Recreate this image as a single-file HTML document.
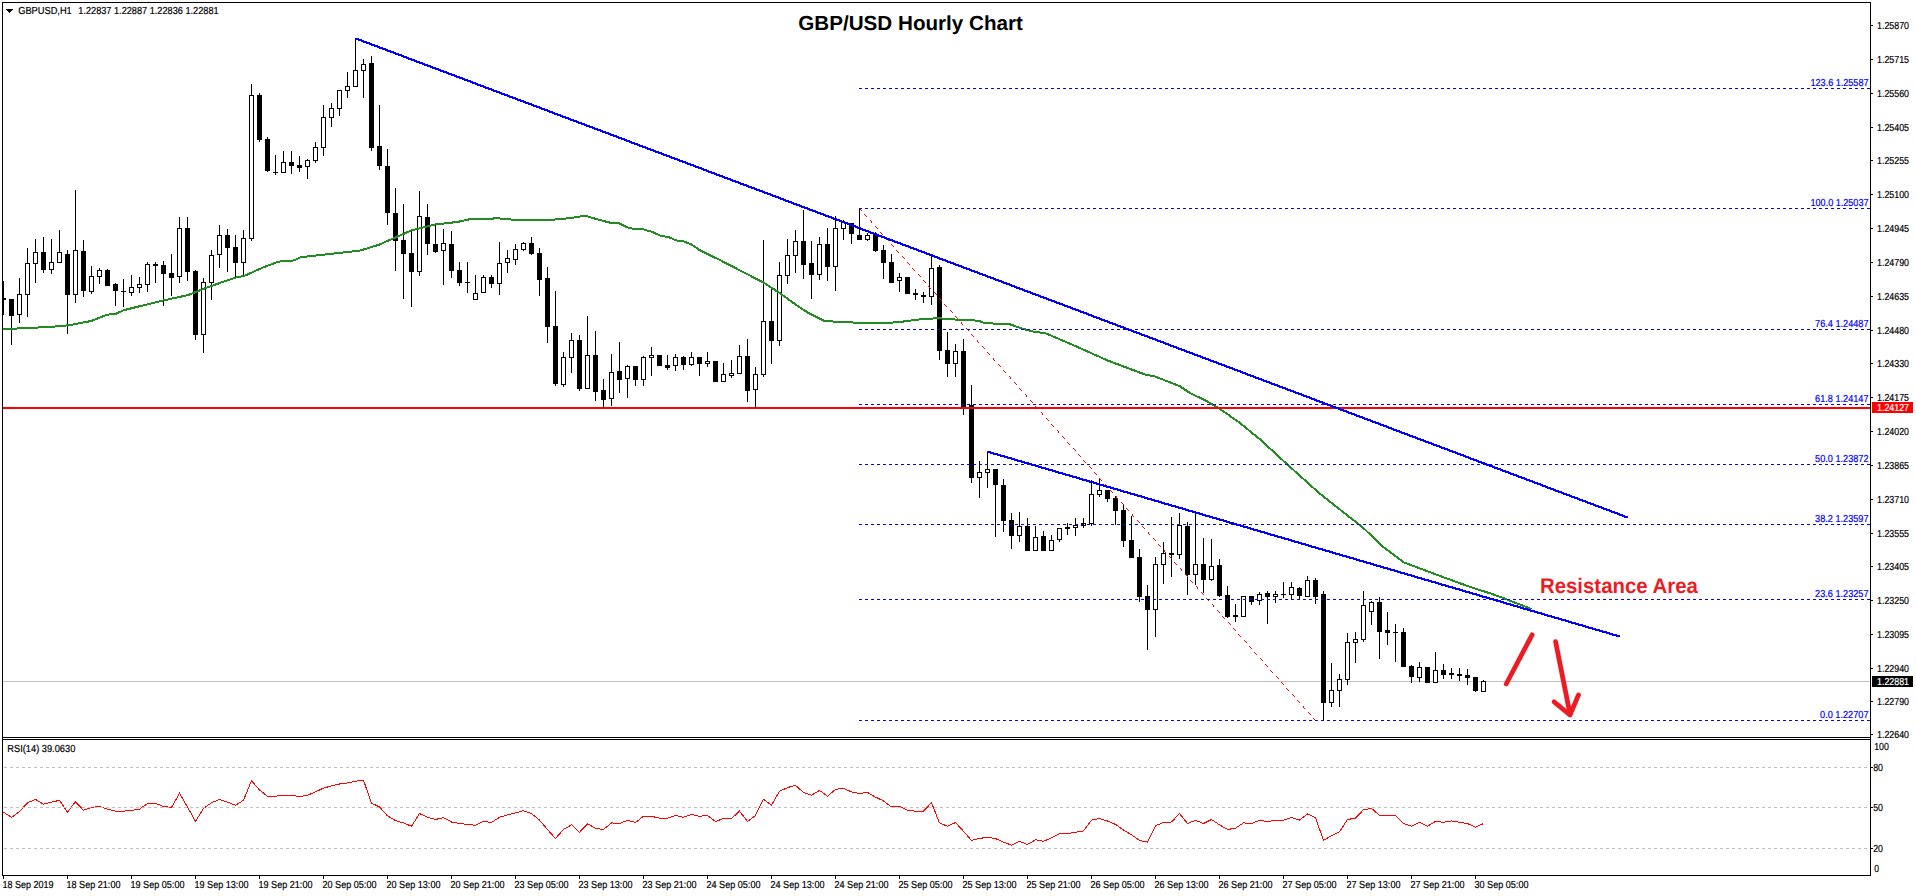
<!DOCTYPE html>
<html><head><meta charset="utf-8"><title>GBP/USD Hourly Chart</title>
<style>html,body{margin:0;padding:0;background:#fff;overflow:hidden}svg{display:block}text{font-family:"Liberation Sans",sans-serif}</style>
</head><body>
<svg width="1916" height="896" viewBox="0 0 1916 896" text-rendering="geometricPrecision">
<rect x="0" y="0" width="1916" height="896" fill="#fff"/>
<g shape-rendering="crispEdges">
<rect x="3" y="681" width="1867" height="1" fill="#c0c0c0"/>
<polyline points="3.5,812.2 11.5,817.4 19.5,811.6 27.5,802.8 35.5,799.4 43.5,804.1 51.5,802.2 59.5,800.3 67.5,812.2 75.5,801.7 83.5,810.3 91.5,807.5 99.5,806.4 107.5,809.2 115.5,811.2 123.5,811.2 131.5,810.3 139.5,809.2 147.5,803.5 155.5,803.5 163.5,806.4 171.5,807.5 179.5,793.4 187.5,806.9 195.5,821.4 203.5,808.4 211.5,802.8 219.5,799.4 227.5,802.2 235.5,805.2 243.5,800.3 251.5,780.6 259.5,790.0 267.5,796.2 275.5,796.2 283.5,795.3 291.5,795.3 299.5,796.6 307.5,795.3 315.5,791.9 323.5,788.1 331.5,785.9 339.5,784.0 347.5,782.9 355.5,781.2 363.5,780.2 371.5,803.2 379.5,806.9 387.5,815.9 395.5,820.6 403.5,822.9 411.5,826.3 419.5,813.5 427.5,817.3 435.5,819.5 443.5,817.6 451.5,822.0 459.5,823.5 467.5,824.4 475.5,825.3 483.5,821.4 491.5,822.5 499.5,817.3 507.5,814.8 515.5,812.9 523.5,810.7 531.5,813.5 539.5,820.1 547.5,829.5 555.5,838.5 563.5,829.5 571.5,824.8 579.5,832.3 587.5,823.8 595.5,828.2 603.5,829.5 611.5,822.9 619.5,823.5 627.5,820.4 635.5,822.5 643.5,816.3 651.5,816.3 659.5,818.2 667.5,818.2 675.5,815.4 683.5,817.3 691.5,814.4 699.5,816.3 707.5,815.4 715.5,821.4 723.5,818.6 731.5,818.6 739.5,811.2 747.5,821.4 755.5,815.4 763.5,799.4 771.5,805.0 779.5,791.3 787.5,787.6 795.5,785.3 803.5,792.4 811.5,795.3 819.5,790.4 827.5,796.2 835.5,789.4 843.5,788.3 851.5,791.9 859.5,793.4 867.5,792.4 875.5,797.1 883.5,800.9 891.5,806.9 899.5,806.4 907.5,810.1 915.5,811.2 923.5,811.2 931.5,802.6 939.5,822.9 947.5,826.3 955.5,822.5 963.5,831.3 971.5,840.4 979.5,838.5 987.5,837.2 995.5,838.5 1003.5,842.2 1011.5,845.1 1019.5,841.3 1027.5,844.5 1035.5,839.8 1043.5,841.3 1051.5,837.9 1059.5,833.6 1067.5,833.6 1075.5,832.3 1083.5,831.0 1091.5,820.1 1099.5,818.6 1107.5,821.0 1115.5,824.4 1123.5,830.0 1131.5,834.7 1139.5,840.4 1147.5,842.2 1155.5,825.7 1163.5,822.5 1171.5,822.0 1179.5,813.5 1187.5,823.5 1195.5,820.4 1203.5,823.5 1211.5,819.5 1219.5,824.8 1227.5,829.5 1235.5,828.2 1243.5,822.9 1251.5,823.5 1259.5,820.4 1267.5,821.4 1275.5,820.4 1283.5,820.1 1291.5,817.6 1299.5,820.1 1307.5,813.9 1315.5,817.8 1323.5,840.4 1331.5,835.7 1339.5,831.9 1347.5,819.5 1355.5,818.2 1363.5,809.7 1371.5,808.4 1379.5,815.4 1387.5,815.4 1395.5,815.4 1403.5,823.5 1411.5,826.3 1419.5,822.3 1427.5,826.3 1435.5,821.4 1443.5,822.3 1451.5,821.0 1459.5,822.3 1467.5,823.5 1475.5,827.2 1483.5,823.5" fill="none" stroke="#ff0000" stroke-width="1"/>
<rect x="3" y="281" width="1" height="34" fill="#000"/>
<rect x="1" y="298" width="5" height="2" fill="#000"/>
<rect x="11" y="299" width="1" height="46" fill="#000"/>
<rect x="9" y="299" width="5" height="17" fill="#000"/>
<rect x="19" y="278" width="1" height="45" fill="#000"/>
<rect x="17" y="294" width="5" height="21" fill="#000"/>
<rect x="18" y="295" width="3" height="19" fill="#fff"/>
<rect x="27" y="248" width="1" height="69" fill="#000"/>
<rect x="25" y="263" width="5" height="32" fill="#000"/>
<rect x="26" y="264" width="3" height="30" fill="#fff"/>
<rect x="35" y="239" width="1" height="44" fill="#000"/>
<rect x="33" y="252" width="5" height="12" fill="#000"/>
<rect x="34" y="253" width="3" height="10" fill="#fff"/>
<rect x="43" y="237" width="1" height="36" fill="#000"/>
<rect x="41" y="252" width="5" height="18" fill="#000"/>
<rect x="51" y="239" width="1" height="35" fill="#000"/>
<rect x="49" y="262" width="5" height="8" fill="#000"/>
<rect x="50" y="263" width="3" height="6" fill="#fff"/>
<rect x="59" y="230" width="1" height="33" fill="#000"/>
<rect x="57" y="252" width="5" height="11" fill="#000"/>
<rect x="58" y="253" width="3" height="9" fill="#fff"/>
<rect x="67" y="250" width="1" height="84" fill="#000"/>
<rect x="65" y="254" width="5" height="41" fill="#000"/>
<rect x="75" y="190" width="1" height="113" fill="#000"/>
<rect x="73" y="250" width="5" height="45" fill="#000"/>
<rect x="74" y="251" width="3" height="43" fill="#fff"/>
<rect x="83" y="240" width="1" height="57" fill="#000"/>
<rect x="81" y="251" width="5" height="40" fill="#000"/>
<rect x="91" y="266" width="1" height="28" fill="#000"/>
<rect x="89" y="276" width="5" height="16" fill="#000"/>
<rect x="90" y="277" width="3" height="14" fill="#fff"/>
<rect x="99" y="268" width="1" height="16" fill="#000"/>
<rect x="97" y="270" width="5" height="7" fill="#000"/>
<rect x="98" y="271" width="3" height="5" fill="#fff"/>
<rect x="107" y="269" width="1" height="17" fill="#000"/>
<rect x="105" y="270" width="5" height="16" fill="#000"/>
<rect x="115" y="283" width="1" height="23" fill="#000"/>
<rect x="113" y="284" width="5" height="7" fill="#000"/>
<rect x="123" y="279" width="1" height="28" fill="#000"/>
<rect x="121" y="291" width="5" height="1" fill="#000"/>
<rect x="131" y="275" width="1" height="21" fill="#000"/>
<rect x="129" y="287" width="5" height="6" fill="#000"/>
<rect x="130" y="288" width="3" height="4" fill="#fff"/>
<rect x="139" y="277" width="1" height="16" fill="#000"/>
<rect x="137" y="284" width="5" height="4" fill="#000"/>
<rect x="138" y="285" width="3" height="2" fill="#fff"/>
<rect x="147" y="262" width="1" height="30" fill="#000"/>
<rect x="145" y="264" width="5" height="21" fill="#000"/>
<rect x="146" y="265" width="3" height="19" fill="#fff"/>
<rect x="155" y="262" width="1" height="21" fill="#000"/>
<rect x="153" y="264" width="5" height="2" fill="#000"/>
<rect x="163" y="261" width="1" height="45" fill="#000"/>
<rect x="161" y="265" width="5" height="9" fill="#000"/>
<rect x="171" y="254" width="1" height="42" fill="#000"/>
<rect x="169" y="273" width="5" height="5" fill="#000"/>
<rect x="179" y="217" width="1" height="66" fill="#000"/>
<rect x="177" y="228" width="5" height="49" fill="#000"/>
<rect x="178" y="229" width="3" height="47" fill="#fff"/>
<rect x="187" y="217" width="1" height="64" fill="#000"/>
<rect x="185" y="228" width="5" height="44" fill="#000"/>
<rect x="195" y="270" width="1" height="70" fill="#000"/>
<rect x="193" y="271" width="5" height="64" fill="#000"/>
<rect x="203" y="278" width="1" height="75" fill="#000"/>
<rect x="201" y="282" width="5" height="53" fill="#000"/>
<rect x="202" y="283" width="3" height="51" fill="#fff"/>
<rect x="211" y="250" width="1" height="50" fill="#000"/>
<rect x="209" y="255" width="5" height="28" fill="#000"/>
<rect x="210" y="256" width="3" height="26" fill="#fff"/>
<rect x="219" y="225" width="1" height="43" fill="#000"/>
<rect x="217" y="235" width="5" height="20" fill="#000"/>
<rect x="218" y="236" width="3" height="18" fill="#fff"/>
<rect x="227" y="229" width="1" height="43" fill="#000"/>
<rect x="225" y="235" width="5" height="13" fill="#000"/>
<rect x="235" y="235" width="1" height="42" fill="#000"/>
<rect x="233" y="247" width="5" height="16" fill="#000"/>
<rect x="243" y="230" width="1" height="45" fill="#000"/>
<rect x="241" y="238" width="5" height="25" fill="#000"/>
<rect x="242" y="239" width="3" height="23" fill="#fff"/>
<rect x="251" y="84" width="1" height="157" fill="#000"/>
<rect x="249" y="95" width="5" height="144" fill="#000"/>
<rect x="250" y="96" width="3" height="142" fill="#fff"/>
<rect x="259" y="93" width="1" height="49" fill="#000"/>
<rect x="257" y="95" width="5" height="45" fill="#000"/>
<rect x="267" y="137" width="1" height="35" fill="#000"/>
<rect x="265" y="139" width="5" height="32" fill="#000"/>
<rect x="275" y="155" width="1" height="20" fill="#000"/>
<rect x="273" y="172" width="5" height="1" fill="#000"/>
<rect x="283" y="151" width="1" height="22" fill="#000"/>
<rect x="281" y="162" width="5" height="11" fill="#000"/>
<rect x="282" y="163" width="3" height="9" fill="#fff"/>
<rect x="291" y="151" width="1" height="23" fill="#000"/>
<rect x="289" y="162" width="5" height="4" fill="#000"/>
<rect x="299" y="156" width="1" height="16" fill="#000"/>
<rect x="297" y="165" width="5" height="3" fill="#000"/>
<rect x="307" y="159" width="1" height="20" fill="#000"/>
<rect x="305" y="160" width="5" height="7" fill="#000"/>
<rect x="306" y="161" width="3" height="5" fill="#fff"/>
<rect x="315" y="142" width="1" height="21" fill="#000"/>
<rect x="313" y="147" width="5" height="14" fill="#000"/>
<rect x="314" y="148" width="3" height="12" fill="#fff"/>
<rect x="323" y="105" width="1" height="51" fill="#000"/>
<rect x="321" y="117" width="5" height="31" fill="#000"/>
<rect x="322" y="118" width="3" height="29" fill="#fff"/>
<rect x="331" y="103" width="1" height="24" fill="#000"/>
<rect x="329" y="108" width="5" height="10" fill="#000"/>
<rect x="330" y="109" width="3" height="8" fill="#fff"/>
<rect x="339" y="90" width="1" height="26" fill="#000"/>
<rect x="337" y="90" width="5" height="19" fill="#000"/>
<rect x="338" y="91" width="3" height="17" fill="#fff"/>
<rect x="347" y="72" width="1" height="26" fill="#000"/>
<rect x="345" y="86" width="5" height="5" fill="#000"/>
<rect x="346" y="87" width="3" height="3" fill="#fff"/>
<rect x="355" y="38" width="1" height="49" fill="#000"/>
<rect x="353" y="70" width="5" height="17" fill="#000"/>
<rect x="354" y="71" width="3" height="15" fill="#fff"/>
<rect x="363" y="59" width="1" height="39" fill="#000"/>
<rect x="361" y="64" width="5" height="7" fill="#000"/>
<rect x="362" y="65" width="3" height="5" fill="#fff"/>
<rect x="371" y="56" width="1" height="95" fill="#000"/>
<rect x="369" y="63" width="5" height="85" fill="#000"/>
<rect x="379" y="105" width="1" height="65" fill="#000"/>
<rect x="377" y="146" width="5" height="20" fill="#000"/>
<rect x="387" y="149" width="1" height="76" fill="#000"/>
<rect x="385" y="166" width="5" height="47" fill="#000"/>
<rect x="395" y="188" width="1" height="83" fill="#000"/>
<rect x="393" y="213" width="5" height="28" fill="#000"/>
<rect x="403" y="204" width="1" height="95" fill="#000"/>
<rect x="401" y="240" width="5" height="14" fill="#000"/>
<rect x="411" y="230" width="1" height="77" fill="#000"/>
<rect x="409" y="253" width="5" height="19" fill="#000"/>
<rect x="419" y="191" width="1" height="85" fill="#000"/>
<rect x="417" y="216" width="5" height="56" fill="#000"/>
<rect x="418" y="217" width="3" height="54" fill="#fff"/>
<rect x="427" y="204" width="1" height="51" fill="#000"/>
<rect x="425" y="217" width="5" height="27" fill="#000"/>
<rect x="435" y="225" width="1" height="28" fill="#000"/>
<rect x="433" y="244" width="5" height="8" fill="#000"/>
<rect x="443" y="229" width="1" height="56" fill="#000"/>
<rect x="441" y="243" width="5" height="8" fill="#000"/>
<rect x="442" y="244" width="3" height="6" fill="#fff"/>
<rect x="451" y="231" width="1" height="47" fill="#000"/>
<rect x="449" y="244" width="5" height="27" fill="#000"/>
<rect x="459" y="262" width="1" height="24" fill="#000"/>
<rect x="457" y="270" width="5" height="13" fill="#000"/>
<rect x="467" y="262" width="1" height="31" fill="#000"/>
<rect x="465" y="282" width="5" height="1" fill="#000"/>
<rect x="475" y="275" width="1" height="25" fill="#000"/>
<rect x="473" y="293" width="5" height="7" fill="#000"/>
<rect x="474" y="294" width="3" height="5" fill="#fff"/>
<rect x="483" y="275" width="1" height="18" fill="#000"/>
<rect x="481" y="277" width="5" height="16" fill="#000"/>
<rect x="482" y="278" width="3" height="14" fill="#fff"/>
<rect x="491" y="275" width="1" height="13" fill="#000"/>
<rect x="489" y="277" width="5" height="7" fill="#000"/>
<rect x="499" y="242" width="1" height="53" fill="#000"/>
<rect x="497" y="263" width="5" height="21" fill="#000"/>
<rect x="498" y="264" width="3" height="19" fill="#fff"/>
<rect x="507" y="250" width="1" height="23" fill="#000"/>
<rect x="505" y="258" width="5" height="5" fill="#000"/>
<rect x="506" y="259" width="3" height="3" fill="#fff"/>
<rect x="515" y="244" width="1" height="21" fill="#000"/>
<rect x="513" y="249" width="5" height="11" fill="#000"/>
<rect x="514" y="250" width="3" height="9" fill="#fff"/>
<rect x="523" y="242" width="1" height="9" fill="#000"/>
<rect x="521" y="243" width="5" height="7" fill="#000"/>
<rect x="522" y="244" width="3" height="5" fill="#fff"/>
<rect x="531" y="237" width="1" height="18" fill="#000"/>
<rect x="529" y="243" width="5" height="11" fill="#000"/>
<rect x="539" y="248" width="1" height="48" fill="#000"/>
<rect x="537" y="253" width="5" height="27" fill="#000"/>
<rect x="547" y="267" width="1" height="76" fill="#000"/>
<rect x="545" y="278" width="5" height="49" fill="#000"/>
<rect x="555" y="291" width="1" height="95" fill="#000"/>
<rect x="553" y="326" width="5" height="58" fill="#000"/>
<rect x="563" y="352" width="1" height="35" fill="#000"/>
<rect x="561" y="357" width="5" height="28" fill="#000"/>
<rect x="562" y="358" width="3" height="26" fill="#fff"/>
<rect x="571" y="333" width="1" height="40" fill="#000"/>
<rect x="569" y="340" width="5" height="18" fill="#000"/>
<rect x="570" y="341" width="3" height="16" fill="#fff"/>
<rect x="579" y="335" width="1" height="56" fill="#000"/>
<rect x="577" y="340" width="5" height="49" fill="#000"/>
<rect x="587" y="316" width="1" height="73" fill="#000"/>
<rect x="585" y="355" width="5" height="34" fill="#000"/>
<rect x="586" y="356" width="3" height="32" fill="#fff"/>
<rect x="595" y="331" width="1" height="70" fill="#000"/>
<rect x="593" y="355" width="5" height="37" fill="#000"/>
<rect x="603" y="379" width="1" height="28" fill="#000"/>
<rect x="601" y="390" width="5" height="10" fill="#000"/>
<rect x="611" y="354" width="1" height="52" fill="#000"/>
<rect x="609" y="372" width="5" height="27" fill="#000"/>
<rect x="610" y="373" width="3" height="25" fill="#fff"/>
<rect x="619" y="342" width="1" height="51" fill="#000"/>
<rect x="617" y="371" width="5" height="9" fill="#000"/>
<rect x="627" y="365" width="1" height="33" fill="#000"/>
<rect x="625" y="366" width="5" height="13" fill="#000"/>
<rect x="626" y="367" width="3" height="11" fill="#fff"/>
<rect x="635" y="366" width="1" height="20" fill="#000"/>
<rect x="633" y="366" width="5" height="14" fill="#000"/>
<rect x="643" y="356" width="1" height="30" fill="#000"/>
<rect x="641" y="357" width="5" height="23" fill="#000"/>
<rect x="642" y="358" width="3" height="21" fill="#fff"/>
<rect x="651" y="347" width="1" height="29" fill="#000"/>
<rect x="649" y="355" width="5" height="3" fill="#000"/>
<rect x="650" y="356" width="3" height="1" fill="#fff"/>
<rect x="659" y="355" width="1" height="11" fill="#000"/>
<rect x="657" y="355" width="5" height="11" fill="#000"/>
<rect x="667" y="355" width="1" height="15" fill="#000"/>
<rect x="665" y="365" width="5" height="3" fill="#000"/>
<rect x="675" y="354" width="1" height="17" fill="#000"/>
<rect x="673" y="357" width="5" height="9" fill="#000"/>
<rect x="674" y="358" width="3" height="7" fill="#fff"/>
<rect x="683" y="356" width="1" height="14" fill="#000"/>
<rect x="681" y="357" width="5" height="8" fill="#000"/>
<rect x="691" y="352" width="1" height="14" fill="#000"/>
<rect x="689" y="357" width="5" height="8" fill="#000"/>
<rect x="690" y="358" width="3" height="6" fill="#fff"/>
<rect x="699" y="357" width="1" height="19" fill="#000"/>
<rect x="697" y="357" width="5" height="7" fill="#000"/>
<rect x="707" y="352" width="1" height="15" fill="#000"/>
<rect x="705" y="361" width="5" height="3" fill="#000"/>
<rect x="706" y="362" width="3" height="1" fill="#fff"/>
<rect x="715" y="361" width="1" height="21" fill="#000"/>
<rect x="713" y="361" width="5" height="21" fill="#000"/>
<rect x="723" y="363" width="1" height="19" fill="#000"/>
<rect x="721" y="374" width="5" height="8" fill="#000"/>
<rect x="722" y="375" width="3" height="6" fill="#fff"/>
<rect x="731" y="360" width="1" height="18" fill="#000"/>
<rect x="729" y="373" width="5" height="3" fill="#000"/>
<rect x="730" y="374" width="3" height="1" fill="#fff"/>
<rect x="739" y="345" width="1" height="29" fill="#000"/>
<rect x="737" y="356" width="5" height="18" fill="#000"/>
<rect x="738" y="357" width="3" height="16" fill="#fff"/>
<rect x="747" y="339" width="1" height="63" fill="#000"/>
<rect x="745" y="356" width="5" height="35" fill="#000"/>
<rect x="755" y="367" width="1" height="40" fill="#000"/>
<rect x="753" y="374" width="5" height="16" fill="#000"/>
<rect x="754" y="375" width="3" height="14" fill="#fff"/>
<rect x="763" y="240" width="1" height="137" fill="#000"/>
<rect x="761" y="321" width="5" height="54" fill="#000"/>
<rect x="762" y="322" width="3" height="52" fill="#fff"/>
<rect x="771" y="287" width="1" height="77" fill="#000"/>
<rect x="769" y="321" width="5" height="20" fill="#000"/>
<rect x="779" y="262" width="1" height="84" fill="#000"/>
<rect x="777" y="275" width="5" height="66" fill="#000"/>
<rect x="778" y="276" width="3" height="64" fill="#fff"/>
<rect x="787" y="239" width="1" height="45" fill="#000"/>
<rect x="785" y="255" width="5" height="21" fill="#000"/>
<rect x="786" y="256" width="3" height="19" fill="#fff"/>
<rect x="795" y="230" width="1" height="43" fill="#000"/>
<rect x="793" y="241" width="5" height="15" fill="#000"/>
<rect x="794" y="242" width="3" height="13" fill="#fff"/>
<rect x="803" y="210" width="1" height="69" fill="#000"/>
<rect x="801" y="241" width="5" height="24" fill="#000"/>
<rect x="811" y="241" width="1" height="58" fill="#000"/>
<rect x="809" y="263" width="5" height="12" fill="#000"/>
<rect x="819" y="237" width="1" height="43" fill="#000"/>
<rect x="817" y="244" width="5" height="31" fill="#000"/>
<rect x="818" y="245" width="3" height="29" fill="#fff"/>
<rect x="827" y="228" width="1" height="53" fill="#000"/>
<rect x="825" y="244" width="5" height="23" fill="#000"/>
<rect x="835" y="216" width="1" height="75" fill="#000"/>
<rect x="833" y="228" width="5" height="39" fill="#000"/>
<rect x="834" y="229" width="3" height="37" fill="#fff"/>
<rect x="843" y="220" width="1" height="20" fill="#000"/>
<rect x="841" y="222" width="5" height="7" fill="#000"/>
<rect x="842" y="223" width="3" height="5" fill="#fff"/>
<rect x="851" y="223" width="1" height="21" fill="#000"/>
<rect x="849" y="223" width="5" height="11" fill="#000"/>
<rect x="859" y="208" width="1" height="32" fill="#000"/>
<rect x="857" y="235" width="5" height="5" fill="#000"/>
<rect x="867" y="233" width="1" height="8" fill="#000"/>
<rect x="865" y="235" width="5" height="5" fill="#000"/>
<rect x="866" y="236" width="3" height="3" fill="#fff"/>
<rect x="875" y="232" width="1" height="20" fill="#000"/>
<rect x="873" y="235" width="5" height="16" fill="#000"/>
<rect x="883" y="245" width="1" height="34" fill="#000"/>
<rect x="881" y="250" width="5" height="13" fill="#000"/>
<rect x="891" y="254" width="1" height="29" fill="#000"/>
<rect x="889" y="262" width="5" height="21" fill="#000"/>
<rect x="899" y="273" width="1" height="19" fill="#000"/>
<rect x="897" y="277" width="5" height="4" fill="#000"/>
<rect x="898" y="278" width="3" height="2" fill="#fff"/>
<rect x="907" y="277" width="1" height="17" fill="#000"/>
<rect x="905" y="277" width="5" height="17" fill="#000"/>
<rect x="915" y="289" width="1" height="11" fill="#000"/>
<rect x="913" y="293" width="5" height="2" fill="#000"/>
<rect x="923" y="292" width="1" height="11" fill="#000"/>
<rect x="921" y="295" width="5" height="2" fill="#000"/>
<rect x="931" y="256" width="1" height="49" fill="#000"/>
<rect x="929" y="268" width="5" height="29" fill="#000"/>
<rect x="930" y="269" width="3" height="27" fill="#fff"/>
<rect x="939" y="265" width="1" height="95" fill="#000"/>
<rect x="937" y="267" width="5" height="84" fill="#000"/>
<rect x="947" y="332" width="1" height="45" fill="#000"/>
<rect x="945" y="350" width="5" height="14" fill="#000"/>
<rect x="955" y="344" width="1" height="33" fill="#000"/>
<rect x="953" y="351" width="5" height="13" fill="#000"/>
<rect x="954" y="352" width="3" height="11" fill="#fff"/>
<rect x="963" y="339" width="1" height="76" fill="#000"/>
<rect x="961" y="351" width="5" height="56" fill="#000"/>
<rect x="971" y="385" width="1" height="98" fill="#000"/>
<rect x="969" y="405" width="5" height="73" fill="#000"/>
<rect x="979" y="461" width="1" height="37" fill="#000"/>
<rect x="977" y="472" width="5" height="6" fill="#000"/>
<rect x="978" y="473" width="3" height="4" fill="#fff"/>
<rect x="987" y="451" width="1" height="37" fill="#000"/>
<rect x="985" y="469" width="5" height="4" fill="#000"/>
<rect x="986" y="470" width="3" height="2" fill="#fff"/>
<rect x="995" y="469" width="1" height="68" fill="#000"/>
<rect x="993" y="469" width="5" height="16" fill="#000"/>
<rect x="1003" y="479" width="1" height="53" fill="#000"/>
<rect x="1001" y="485" width="5" height="36" fill="#000"/>
<rect x="1011" y="513" width="1" height="36" fill="#000"/>
<rect x="1009" y="520" width="5" height="16" fill="#000"/>
<rect x="1019" y="512" width="1" height="30" fill="#000"/>
<rect x="1017" y="526" width="5" height="10" fill="#000"/>
<rect x="1018" y="527" width="3" height="8" fill="#fff"/>
<rect x="1027" y="518" width="1" height="33" fill="#000"/>
<rect x="1025" y="526" width="5" height="25" fill="#000"/>
<rect x="1035" y="526" width="1" height="25" fill="#000"/>
<rect x="1033" y="537" width="5" height="14" fill="#000"/>
<rect x="1034" y="538" width="3" height="12" fill="#fff"/>
<rect x="1043" y="531" width="1" height="20" fill="#000"/>
<rect x="1041" y="536" width="5" height="15" fill="#000"/>
<rect x="1051" y="535" width="1" height="16" fill="#000"/>
<rect x="1049" y="540" width="5" height="11" fill="#000"/>
<rect x="1050" y="541" width="3" height="9" fill="#fff"/>
<rect x="1059" y="528" width="1" height="14" fill="#000"/>
<rect x="1057" y="528" width="5" height="12" fill="#000"/>
<rect x="1058" y="529" width="3" height="10" fill="#fff"/>
<rect x="1067" y="523" width="1" height="12" fill="#000"/>
<rect x="1065" y="527" width="5" height="2" fill="#000"/>
<rect x="1075" y="518" width="1" height="18" fill="#000"/>
<rect x="1073" y="525" width="5" height="3" fill="#000"/>
<rect x="1074" y="526" width="3" height="1" fill="#fff"/>
<rect x="1083" y="518" width="1" height="10" fill="#000"/>
<rect x="1081" y="523" width="5" height="3" fill="#000"/>
<rect x="1082" y="524" width="3" height="1" fill="#fff"/>
<rect x="1091" y="480" width="1" height="46" fill="#000"/>
<rect x="1089" y="494" width="5" height="30" fill="#000"/>
<rect x="1090" y="495" width="3" height="28" fill="#fff"/>
<rect x="1099" y="478" width="1" height="19" fill="#000"/>
<rect x="1097" y="490" width="5" height="5" fill="#000"/>
<rect x="1098" y="491" width="3" height="3" fill="#fff"/>
<rect x="1107" y="490" width="1" height="12" fill="#000"/>
<rect x="1105" y="490" width="5" height="9" fill="#000"/>
<rect x="1115" y="496" width="1" height="29" fill="#000"/>
<rect x="1113" y="498" width="5" height="13" fill="#000"/>
<rect x="1123" y="504" width="1" height="43" fill="#000"/>
<rect x="1121" y="510" width="5" height="31" fill="#000"/>
<rect x="1131" y="516" width="1" height="42" fill="#000"/>
<rect x="1129" y="540" width="5" height="18" fill="#000"/>
<rect x="1139" y="549" width="1" height="53" fill="#000"/>
<rect x="1137" y="557" width="5" height="40" fill="#000"/>
<rect x="1147" y="585" width="1" height="65" fill="#000"/>
<rect x="1145" y="596" width="5" height="14" fill="#000"/>
<rect x="1155" y="557" width="1" height="80" fill="#000"/>
<rect x="1153" y="564" width="5" height="46" fill="#000"/>
<rect x="1154" y="565" width="3" height="44" fill="#fff"/>
<rect x="1163" y="542" width="1" height="42" fill="#000"/>
<rect x="1161" y="553" width="5" height="12" fill="#000"/>
<rect x="1162" y="554" width="3" height="10" fill="#fff"/>
<rect x="1171" y="517" width="1" height="60" fill="#000"/>
<rect x="1169" y="553" width="5" height="2" fill="#000"/>
<rect x="1179" y="513" width="1" height="46" fill="#000"/>
<rect x="1177" y="525" width="5" height="30" fill="#000"/>
<rect x="1178" y="526" width="3" height="28" fill="#fff"/>
<rect x="1187" y="522" width="1" height="73" fill="#000"/>
<rect x="1185" y="526" width="5" height="49" fill="#000"/>
<rect x="1195" y="513" width="1" height="72" fill="#000"/>
<rect x="1193" y="564" width="5" height="11" fill="#000"/>
<rect x="1194" y="565" width="3" height="9" fill="#fff"/>
<rect x="1203" y="538" width="1" height="55" fill="#000"/>
<rect x="1201" y="564" width="5" height="16" fill="#000"/>
<rect x="1211" y="539" width="1" height="42" fill="#000"/>
<rect x="1209" y="566" width="5" height="14" fill="#000"/>
<rect x="1210" y="567" width="3" height="12" fill="#fff"/>
<rect x="1219" y="559" width="1" height="38" fill="#000"/>
<rect x="1217" y="565" width="5" height="31" fill="#000"/>
<rect x="1227" y="586" width="1" height="32" fill="#000"/>
<rect x="1225" y="595" width="5" height="22" fill="#000"/>
<rect x="1235" y="604" width="1" height="18" fill="#000"/>
<rect x="1233" y="615" width="5" height="2" fill="#000"/>
<rect x="1243" y="596" width="1" height="21" fill="#000"/>
<rect x="1241" y="596" width="5" height="21" fill="#000"/>
<rect x="1242" y="597" width="3" height="19" fill="#fff"/>
<rect x="1251" y="596" width="1" height="9" fill="#000"/>
<rect x="1249" y="596" width="5" height="6" fill="#000"/>
<rect x="1259" y="592" width="1" height="13" fill="#000"/>
<rect x="1257" y="594" width="5" height="7" fill="#000"/>
<rect x="1258" y="595" width="3" height="5" fill="#fff"/>
<rect x="1267" y="591" width="1" height="33" fill="#000"/>
<rect x="1265" y="593" width="5" height="4" fill="#000"/>
<rect x="1275" y="591" width="1" height="12" fill="#000"/>
<rect x="1273" y="594" width="5" height="3" fill="#000"/>
<rect x="1274" y="595" width="3" height="1" fill="#fff"/>
<rect x="1283" y="582" width="1" height="16" fill="#000"/>
<rect x="1281" y="594" width="5" height="1" fill="#000"/>
<rect x="1291" y="582" width="1" height="18" fill="#000"/>
<rect x="1289" y="587" width="5" height="8" fill="#000"/>
<rect x="1290" y="588" width="3" height="6" fill="#fff"/>
<rect x="1299" y="587" width="1" height="13" fill="#000"/>
<rect x="1297" y="588" width="5" height="8" fill="#000"/>
<rect x="1307" y="576" width="1" height="21" fill="#000"/>
<rect x="1305" y="580" width="5" height="17" fill="#000"/>
<rect x="1306" y="581" width="3" height="15" fill="#fff"/>
<rect x="1315" y="578" width="1" height="26" fill="#000"/>
<rect x="1313" y="580" width="5" height="17" fill="#000"/>
<rect x="1323" y="591" width="1" height="130" fill="#000"/>
<rect x="1321" y="594" width="5" height="109" fill="#000"/>
<rect x="1331" y="663" width="1" height="44" fill="#000"/>
<rect x="1329" y="690" width="5" height="13" fill="#000"/>
<rect x="1330" y="691" width="3" height="11" fill="#fff"/>
<rect x="1339" y="674" width="1" height="33" fill="#000"/>
<rect x="1337" y="679" width="5" height="12" fill="#000"/>
<rect x="1338" y="680" width="3" height="10" fill="#fff"/>
<rect x="1347" y="633" width="1" height="52" fill="#000"/>
<rect x="1345" y="642" width="5" height="38" fill="#000"/>
<rect x="1346" y="643" width="3" height="36" fill="#fff"/>
<rect x="1355" y="632" width="1" height="31" fill="#000"/>
<rect x="1353" y="639" width="5" height="4" fill="#000"/>
<rect x="1354" y="640" width="3" height="2" fill="#fff"/>
<rect x="1363" y="591" width="1" height="51" fill="#000"/>
<rect x="1361" y="605" width="5" height="35" fill="#000"/>
<rect x="1362" y="606" width="3" height="33" fill="#fff"/>
<rect x="1371" y="601" width="1" height="24" fill="#000"/>
<rect x="1369" y="602" width="5" height="10" fill="#000"/>
<rect x="1370" y="603" width="3" height="8" fill="#fff"/>
<rect x="1379" y="597" width="1" height="62" fill="#000"/>
<rect x="1377" y="602" width="5" height="30" fill="#000"/>
<rect x="1387" y="612" width="1" height="33" fill="#000"/>
<rect x="1385" y="630" width="5" height="3" fill="#000"/>
<rect x="1395" y="624" width="1" height="38" fill="#000"/>
<rect x="1393" y="632" width="5" height="1" fill="#000"/>
<rect x="1403" y="628" width="1" height="39" fill="#000"/>
<rect x="1401" y="632" width="5" height="35" fill="#000"/>
<rect x="1411" y="665" width="1" height="18" fill="#000"/>
<rect x="1409" y="666" width="5" height="11" fill="#000"/>
<rect x="1419" y="662" width="1" height="20" fill="#000"/>
<rect x="1417" y="667" width="5" height="11" fill="#000"/>
<rect x="1418" y="668" width="3" height="9" fill="#fff"/>
<rect x="1427" y="667" width="1" height="16" fill="#000"/>
<rect x="1425" y="667" width="5" height="16" fill="#000"/>
<rect x="1435" y="652" width="1" height="31" fill="#000"/>
<rect x="1433" y="670" width="5" height="13" fill="#000"/>
<rect x="1434" y="671" width="3" height="11" fill="#fff"/>
<rect x="1443" y="664" width="1" height="15" fill="#000"/>
<rect x="1441" y="670" width="5" height="5" fill="#000"/>
<rect x="1451" y="668" width="1" height="11" fill="#000"/>
<rect x="1449" y="673" width="5" height="2" fill="#000"/>
<rect x="1459" y="668" width="1" height="13" fill="#000"/>
<rect x="1457" y="674" width="5" height="2" fill="#000"/>
<rect x="1467" y="669" width="1" height="16" fill="#000"/>
<rect x="1465" y="675" width="5" height="3" fill="#000"/>
<rect x="1475" y="677" width="1" height="15" fill="#000"/>
<rect x="1473" y="677" width="5" height="14" fill="#000"/>
<rect x="1483" y="680" width="1" height="12" fill="#000"/>
<rect x="1481" y="681" width="5" height="11" fill="#000"/>
<rect x="1482" y="682" width="3" height="9" fill="#fff"/>
<polyline points="3.0,329.5 18.8,328.4 50.7,326.9 69.5,325.2 91.1,321.0 107.0,314.7 115.5,313.9 124.0,310.1 163.5,300.4 188.0,295.1 206.7,287.6 234.9,277.8 244.3,275.9 263.0,267.5 278.0,261.7 294.0,260.4 300.6,257.2 360.0,250.6 378.8,244.8 393.8,238.2 411.7,230.3 435.2,224.5 457.7,221.9 469.0,219.4 491.5,219.0 495.3,218.1 516.0,220.0 547.9,220.0 562.9,218.9 571.0,217.9 583.5,216.0 587.4,216.3 596.0,219.0 611.7,223.1 619.5,223.4 627.3,227.3 635.2,229.2 643.0,229.3 652.4,232.0 660.2,235.6 669.6,237.5 675.9,240.3 683.7,241.4 691.5,244.5 699.4,250.0 720.0,260.1 740.0,270.4 763.5,282.6 779.5,292.9 796.4,305.1 809.5,313.6 824.6,321.1 843.3,322.0 867.8,323.3 882.8,323.3 899.7,322.0 924.1,318.8 939.2,318.3 956.1,319.6 978.6,320.7 984.3,323.0 1010.6,324.5 1021.8,328.6 1036.9,332.4 1044.4,332.7 1074.1,345.5 1107.9,360.6 1145.5,374.7 1154.9,376.5 1179.3,385.9 1190.6,393.4 1205.6,400.4 1220.6,409.4 1239.4,422.6 1260.0,439.3 1287.1,464.3 1318.5,492.5 1343.5,512.4 1362.3,527.0 1383.2,546.8 1404.0,562.5 1437.5,575.0 1468.8,586.5 1491.7,593.8 1503.3,598.1 1531.5,609.0" fill="none" stroke="#228b22" stroke-width="2" stroke-linejoin="round"/>
<path d="M859 208h1v1h-1zM860 209h1v1h-1zM861 210h1v1h-1zM864 214h1v1h-1zM865 215h1v1h-1zM866 216h1v1h-1zM870 220h1v1h-1zM871 221h1v1h-1zM871 222h1v1h-1zM875 226h1v1h-1zM876 227h1v1h-1zM877 228h1v1h-1zM880 232h1v1h-1zM881 233h1v1h-1zM882 234h1v1h-1zM886 238h1v1h-1zM887 239h1v1h-1zM888 240h1v1h-1zM891 244h1v1h-1zM892 245h1v1h-1zM893 246h1v1h-1zM896 250h1v1h-1zM897 251h1v1h-1zM898 252h1v1h-1zM902 256h1v1h-1zM903 257h1v1h-1zM904 258h1v1h-1zM907 262h1v1h-1zM908 263h1v1h-1zM909 264h1v1h-1zM912 268h1v1h-1zM913 269h1v1h-1zM914 270h1v1h-1zM918 274h1v1h-1zM919 275h1v1h-1zM920 276h1v1h-1zM923 280h1v1h-1zM924 281h1v1h-1zM925 282h1v1h-1zM928 286h1v1h-1zM929 287h1v1h-1zM930 288h1v1h-1zM934 292h1v1h-1zM935 293h1v1h-1zM936 294h1v1h-1zM939 298h1v1h-1zM940 299h1v1h-1zM941 300h1v1h-1zM944 304h1v1h-1zM945 305h1v1h-1zM946 306h1v1h-1zM950 310h1v1h-1zM951 311h1v1h-1zM952 312h1v1h-1zM955 316h1v1h-1zM956 317h1v1h-1zM957 318h1v1h-1zM961 322h1v1h-1zM961 323h1v1h-1zM962 324h1v1h-1zM966 328h1v1h-1zM967 329h1v1h-1zM968 330h1v1h-1zM971 334h1v1h-1zM972 335h1v1h-1zM973 336h1v1h-1zM977 340h1v1h-1zM977 341h1v1h-1zM978 342h1v1h-1zM982 346h1v1h-1zM983 347h1v1h-1zM984 348h1v1h-1zM987 352h1v1h-1zM988 353h1v1h-1zM989 354h1v1h-1zM993 358h1v1h-1zM993 359h1v1h-1zM994 360h1v1h-1zM998 364h1v1h-1zM999 365h1v1h-1zM1000 366h1v1h-1zM1003 370h1v1h-1zM1004 371h1v1h-1zM1005 372h1v1h-1zM1009 376h1v1h-1zM1010 377h1v1h-1zM1010 378h1v1h-1zM1014 382h1v1h-1zM1015 383h1v1h-1zM1016 384h1v1h-1zM1019 388h1v1h-1zM1020 389h1v1h-1zM1021 390h1v1h-1zM1025 394h1v1h-1zM1026 395h1v1h-1zM1026 396h1v1h-1zM1030 400h1v1h-1zM1031 401h1v1h-1zM1032 402h1v1h-1zM1035 406h1v1h-1zM1036 407h1v1h-1zM1037 408h1v1h-1zM1041 412h1v1h-1zM1042 413h1v1h-1zM1042 414h1v1h-1zM1046 418h1v1h-1zM1047 419h1v1h-1zM1048 420h1v1h-1zM1051 424h1v1h-1zM1052 425h1v1h-1zM1053 426h1v1h-1zM1057 430h1v1h-1zM1058 431h1v1h-1zM1058 432h1v1h-1zM1062 436h1v1h-1zM1063 437h1v1h-1zM1064 438h1v1h-1zM1067 442h1v1h-1zM1068 443h1v1h-1zM1069 444h1v1h-1zM1073 448h1v1h-1zM1074 449h1v1h-1zM1075 450h1v1h-1zM1078 454h1v1h-1zM1079 455h1v1h-1zM1080 456h1v1h-1zM1083 460h1v1h-1zM1084 461h1v1h-1zM1085 462h1v1h-1zM1089 466h1v1h-1zM1090 467h1v1h-1zM1091 468h1v1h-1zM1094 472h1v1h-1zM1095 473h1v1h-1zM1096 474h1v1h-1zM1099 478h1v1h-1zM1100 479h1v1h-1zM1101 480h1v1h-1zM1105 484h1v1h-1zM1106 485h1v1h-1zM1107 486h1v1h-1zM1110 490h1v1h-1zM1111 491h1v1h-1zM1112 492h1v1h-1zM1116 496h1v1h-1zM1116 497h1v1h-1zM1117 498h1v1h-1zM1121 502h1v1h-1zM1122 503h1v1h-1zM1123 504h1v1h-1zM1126 508h1v1h-1zM1127 509h1v1h-1zM1128 510h1v1h-1zM1132 514h1v1h-1zM1132 515h1v1h-1zM1133 516h1v1h-1zM1137 520h1v1h-1zM1138 521h1v1h-1zM1139 522h1v1h-1zM1142 526h1v1h-1zM1143 527h1v1h-1zM1144 528h1v1h-1zM1148 532h1v1h-1zM1148 533h1v1h-1zM1149 534h1v1h-1zM1153 538h1v1h-1zM1154 539h1v1h-1zM1155 540h1v1h-1zM1158 544h1v1h-1zM1159 545h1v1h-1zM1160 546h1v1h-1zM1164 550h1v1h-1zM1164 551h1v1h-1zM1165 552h1v1h-1zM1169 556h1v1h-1zM1170 557h1v1h-1zM1171 558h1v1h-1zM1174 562h1v1h-1zM1175 563h1v1h-1zM1176 564h1v1h-1zM1180 568h1v1h-1zM1181 569h1v1h-1zM1181 570h1v1h-1zM1185 574h1v1h-1zM1186 575h1v1h-1zM1187 576h1v1h-1zM1190 580h1v1h-1zM1191 581h1v1h-1zM1192 582h1v1h-1zM1196 586h1v1h-1zM1197 587h1v1h-1zM1197 588h1v1h-1zM1201 592h1v1h-1zM1202 593h1v1h-1zM1203 594h1v1h-1zM1206 598h1v1h-1zM1207 599h1v1h-1zM1208 600h1v1h-1zM1212 604h1v1h-1zM1213 605h1v1h-1zM1213 606h1v1h-1zM1217 610h1v1h-1zM1218 611h1v1h-1zM1219 612h1v1h-1zM1222 616h1v1h-1zM1223 617h1v1h-1zM1224 618h1v1h-1zM1228 622h1v1h-1zM1229 623h1v1h-1zM1230 624h1v1h-1zM1233 628h1v1h-1zM1234 629h1v1h-1zM1235 630h1v1h-1zM1238 634h1v1h-1zM1239 635h1v1h-1zM1240 636h1v1h-1zM1244 640h1v1h-1zM1245 641h1v1h-1zM1246 642h1v1h-1zM1249 646h1v1h-1zM1250 647h1v1h-1zM1251 648h1v1h-1zM1254 652h1v1h-1zM1255 653h1v1h-1zM1256 654h1v1h-1zM1260 658h1v1h-1zM1261 659h1v1h-1zM1262 660h1v1h-1zM1265 664h1v1h-1zM1266 665h1v1h-1zM1267 666h1v1h-1zM1270 670h1v1h-1zM1271 671h1v1h-1zM1272 672h1v1h-1zM1276 676h1v1h-1zM1277 677h1v1h-1zM1278 678h1v1h-1zM1281 682h1v1h-1zM1282 683h1v1h-1zM1283 684h1v1h-1zM1286 688h1v1h-1zM1287 689h1v1h-1zM1288 690h1v1h-1zM1292 694h1v1h-1zM1293 695h1v1h-1zM1294 696h1v1h-1zM1297 700h1v1h-1zM1298 701h1v1h-1zM1299 702h1v1h-1zM1303 706h1v1h-1zM1303 707h1v1h-1zM1304 708h1v1h-1zM1308 712h1v1h-1zM1309 713h1v1h-1zM1310 714h1v1h-1zM1313 718h1v1h-1zM1314 719h1v1h-1zM1315 720h1v1h-1z" fill="#ff0000"/>
<line x1="859" y1="88.5" x2="1870" y2="88.5" stroke="#0000ff" stroke-width="1" stroke-dasharray="3 3"/>
<line x1="859" y1="208.5" x2="1870" y2="208.5" stroke="#0000ff" stroke-width="1" stroke-dasharray="3 3"/>
<line x1="859" y1="329.5" x2="1870" y2="329.5" stroke="#0000ff" stroke-width="1" stroke-dasharray="3 3"/>
<line x1="859" y1="404.5" x2="1870" y2="404.5" stroke="#0000ff" stroke-width="1" stroke-dasharray="3 3"/>
<line x1="859" y1="464.5" x2="1870" y2="464.5" stroke="#0000ff" stroke-width="1" stroke-dasharray="3 3"/>
<line x1="859" y1="524.5" x2="1870" y2="524.5" stroke="#0000ff" stroke-width="1" stroke-dasharray="3 3"/>
<line x1="859" y1="599.5" x2="1870" y2="599.5" stroke="#0000ff" stroke-width="1" stroke-dasharray="3 3"/>
<line x1="859" y1="720.5" x2="1870" y2="720.5" stroke="#0000ff" stroke-width="1" stroke-dasharray="3 3"/>
<line x1="4" y1="767.5" x2="1870" y2="767.5" stroke="#c0c0c0" stroke-width="1" stroke-dasharray="3 3"/>
<line x1="4" y1="807.5" x2="1870" y2="807.5" stroke="#c0c0c0" stroke-width="1" stroke-dasharray="3 3"/>
<line x1="4" y1="848.5" x2="1870" y2="848.5" stroke="#c0c0c0" stroke-width="1" stroke-dasharray="3 3"/>
<rect x="3" y="407" width="1867" height="2" fill="#ff0000"/>
<path d="M355 38h4v2h-4zM358 39h4v2h-4zM361 40h3v2h-3zM363 41h4v2h-4zM366 42h4v2h-4zM369 43h3v2h-3zM371 44h4v2h-4zM374 45h4v2h-4zM377 46h3v2h-3zM379 47h4v2h-4zM382 48h4v2h-4zM385 49h3v2h-3zM387 50h4v2h-4zM390 51h4v2h-4zM393 52h3v2h-3zM395 53h4v2h-4zM398 54h4v2h-4zM401 55h3v2h-3zM403 56h4v2h-4zM406 57h3v2h-3zM408 58h4v2h-4zM411 59h4v2h-4zM414 60h3v2h-3zM416 61h4v2h-4zM419 62h4v2h-4zM422 63h3v2h-3zM424 64h4v2h-4zM427 65h4v2h-4zM430 66h3v2h-3zM432 67h4v2h-4zM435 68h4v2h-4zM438 69h3v2h-3zM440 70h4v2h-4zM443 71h4v2h-4zM446 72h3v2h-3zM448 73h4v2h-4zM451 74h4v2h-4zM454 75h3v2h-3zM456 76h4v2h-4zM459 77h4v2h-4zM462 78h3v2h-3zM464 79h4v2h-4zM467 80h4v2h-4zM470 81h3v2h-3zM472 82h4v2h-4zM475 83h3v2h-3zM477 84h4v2h-4zM480 85h4v2h-4zM483 86h3v2h-3zM485 87h4v2h-4zM488 88h4v2h-4zM491 89h3v2h-3zM493 90h4v2h-4zM496 91h4v2h-4zM499 92h3v2h-3zM501 93h4v2h-4zM504 94h4v2h-4zM507 95h3v2h-3zM509 96h4v2h-4zM512 97h4v2h-4zM515 98h3v2h-3zM517 99h4v2h-4zM520 100h4v2h-4zM523 101h3v2h-3zM525 102h4v2h-4zM528 103h4v2h-4zM531 104h3v2h-3zM533 105h4v2h-4zM536 106h4v2h-4zM539 107h3v2h-3zM541 108h4v2h-4zM544 109h4v2h-4zM547 110h3v2h-3zM549 111h4v2h-4zM552 112h3v2h-3zM554 113h4v2h-4zM557 114h4v2h-4zM560 115h3v2h-3zM562 116h4v2h-4zM565 117h4v2h-4zM568 118h3v2h-3zM570 119h4v2h-4zM573 120h4v2h-4zM576 121h3v2h-3zM578 122h4v2h-4zM581 123h4v2h-4zM584 124h3v2h-3zM586 125h4v2h-4zM589 126h4v2h-4zM592 127h3v2h-3zM594 128h4v2h-4zM597 129h4v2h-4zM600 130h3v2h-3zM602 131h4v2h-4zM605 132h4v2h-4zM608 133h3v2h-3zM610 134h4v2h-4zM613 135h4v2h-4zM616 136h3v2h-3zM618 137h4v2h-4zM621 138h4v2h-4zM624 139h3v2h-3zM626 140h4v2h-4zM629 141h3v2h-3zM631 142h4v2h-4zM634 143h4v2h-4zM637 144h3v2h-3zM639 145h4v2h-4zM642 146h4v2h-4zM645 147h3v2h-3zM647 148h4v2h-4zM650 149h4v2h-4zM653 150h3v2h-3zM655 151h4v2h-4zM658 152h4v2h-4zM661 153h3v2h-3zM663 154h4v2h-4zM666 155h4v2h-4zM669 156h3v2h-3zM671 157h4v2h-4zM674 158h4v2h-4zM677 159h3v2h-3zM679 160h4v2h-4zM682 161h4v2h-4zM685 162h3v2h-3zM687 163h4v2h-4zM690 164h4v2h-4zM693 165h3v2h-3zM695 166h4v2h-4zM698 167h4v2h-4zM701 168h3v2h-3zM703 169h4v2h-4zM706 170h3v2h-3zM708 171h4v2h-4zM711 172h4v2h-4zM714 173h3v2h-3zM716 174h4v2h-4zM719 175h4v2h-4zM722 176h3v2h-3zM724 177h4v2h-4zM727 178h4v2h-4zM730 179h3v2h-3zM732 180h4v2h-4zM735 181h4v2h-4zM738 182h3v2h-3zM740 183h4v2h-4zM743 184h4v2h-4zM746 185h3v2h-3zM748 186h4v2h-4zM751 187h4v2h-4zM754 188h3v2h-3zM756 189h4v2h-4zM759 190h4v2h-4zM762 191h3v2h-3zM764 192h4v2h-4zM767 193h4v2h-4zM770 194h3v2h-3zM772 195h4v2h-4zM775 196h4v2h-4zM778 197h3v2h-3zM780 198h4v2h-4zM783 199h3v2h-3zM785 200h4v2h-4zM788 201h4v2h-4zM791 202h3v2h-3zM793 203h4v2h-4zM796 204h4v2h-4zM799 205h3v2h-3zM801 206h4v2h-4zM804 207h4v2h-4zM807 208h3v2h-3zM809 209h4v2h-4zM812 210h4v2h-4zM815 211h3v2h-3zM817 212h4v2h-4zM820 213h4v2h-4zM823 214h3v2h-3zM825 215h4v2h-4zM828 216h4v2h-4zM831 217h3v2h-3zM833 218h4v2h-4zM836 219h4v2h-4zM839 220h3v2h-3zM841 221h4v2h-4zM844 222h4v2h-4zM847 223h3v2h-3zM849 224h4v2h-4zM852 225h4v2h-4zM855 226h3v2h-3zM857 227h4v2h-4zM860 228h3v2h-3zM862 229h4v2h-4zM865 230h4v2h-4zM868 231h3v2h-3zM870 232h4v2h-4zM873 233h4v2h-4zM876 234h3v2h-3zM878 235h4v2h-4zM881 236h4v2h-4zM884 237h3v2h-3zM886 238h4v2h-4zM889 239h4v2h-4zM892 240h3v2h-3zM894 241h4v2h-4zM897 242h4v2h-4zM900 243h3v2h-3zM902 244h4v2h-4zM905 245h4v2h-4zM908 246h3v2h-3zM910 247h4v2h-4zM913 248h4v2h-4zM916 249h3v2h-3zM918 250h4v2h-4zM921 251h4v2h-4zM924 252h3v2h-3zM926 253h4v2h-4zM929 254h4v2h-4zM932 255h3v2h-3zM934 256h4v2h-4zM937 257h3v2h-3zM939 258h4v2h-4zM942 259h4v2h-4zM945 260h3v2h-3zM947 261h4v2h-4zM950 262h4v2h-4zM953 263h3v2h-3zM955 264h4v2h-4zM958 265h4v2h-4zM961 266h3v2h-3zM963 267h4v2h-4zM966 268h4v2h-4zM969 269h3v2h-3zM971 270h4v2h-4zM974 271h4v2h-4zM977 272h3v2h-3zM979 273h4v2h-4zM982 274h4v2h-4zM985 275h3v2h-3zM987 276h4v2h-4zM990 277h4v2h-4zM993 278h3v2h-3zM995 279h4v2h-4zM998 280h4v2h-4zM1001 281h3v2h-3zM1003 282h4v2h-4zM1006 283h4v2h-4zM1009 284h3v2h-3zM1011 285h4v2h-4zM1014 286h3v2h-3zM1016 287h4v2h-4zM1019 288h4v2h-4zM1022 289h3v2h-3zM1024 290h4v2h-4zM1027 291h4v2h-4zM1030 292h3v2h-3zM1032 293h4v2h-4zM1035 294h4v2h-4zM1038 295h3v2h-3zM1040 296h4v2h-4zM1043 297h4v2h-4zM1046 298h3v2h-3zM1048 299h4v2h-4zM1051 300h4v2h-4zM1054 301h3v2h-3zM1056 302h4v2h-4zM1059 303h4v2h-4zM1062 304h3v2h-3zM1064 305h4v2h-4zM1067 306h4v2h-4zM1070 307h3v2h-3zM1072 308h4v2h-4zM1075 309h4v2h-4zM1078 310h3v2h-3zM1080 311h4v2h-4zM1083 312h4v2h-4zM1086 313h3v2h-3zM1088 314h4v2h-4zM1091 315h3v2h-3zM1093 316h4v2h-4zM1096 317h4v2h-4zM1099 318h3v2h-3zM1101 319h4v2h-4zM1104 320h4v2h-4zM1107 321h3v2h-3zM1109 322h4v2h-4zM1112 323h4v2h-4zM1115 324h3v2h-3zM1117 325h4v2h-4zM1120 326h4v2h-4zM1123 327h3v2h-3zM1125 328h4v2h-4zM1128 329h4v2h-4zM1131 330h3v2h-3zM1133 331h4v2h-4zM1136 332h4v2h-4zM1139 333h3v2h-3zM1141 334h4v2h-4zM1144 335h4v2h-4zM1147 336h3v2h-3zM1149 337h4v2h-4zM1152 338h4v2h-4zM1155 339h3v2h-3zM1157 340h4v2h-4zM1160 341h4v2h-4zM1163 342h3v2h-3zM1165 343h4v2h-4zM1168 344h3v2h-3zM1170 345h4v2h-4zM1173 346h4v2h-4zM1176 347h3v2h-3zM1178 348h4v2h-4zM1181 349h4v2h-4zM1184 350h3v2h-3zM1186 351h4v2h-4zM1189 352h4v2h-4zM1192 353h3v2h-3zM1194 354h4v2h-4zM1197 355h4v2h-4zM1200 356h3v2h-3zM1202 357h4v2h-4zM1205 358h4v2h-4zM1208 359h3v2h-3zM1210 360h4v2h-4zM1213 361h4v2h-4zM1216 362h3v2h-3zM1218 363h4v2h-4zM1221 364h4v2h-4zM1224 365h3v2h-3zM1226 366h4v2h-4zM1229 367h4v2h-4zM1232 368h3v2h-3zM1234 369h4v2h-4zM1237 370h4v2h-4zM1240 371h3v2h-3zM1242 372h4v2h-4zM1245 373h3v2h-3zM1247 374h4v2h-4zM1250 375h4v2h-4zM1253 376h3v2h-3zM1255 377h4v2h-4zM1258 378h4v2h-4zM1261 379h3v2h-3zM1263 380h4v2h-4zM1266 381h4v2h-4zM1269 382h3v2h-3zM1271 383h4v2h-4zM1274 384h4v2h-4zM1277 385h3v2h-3zM1279 386h4v2h-4zM1282 387h4v2h-4zM1285 388h3v2h-3zM1287 389h4v2h-4zM1290 390h4v2h-4zM1293 391h3v2h-3zM1295 392h4v2h-4zM1298 393h4v2h-4zM1301 394h3v2h-3zM1303 395h4v2h-4zM1306 396h4v2h-4zM1309 397h3v2h-3zM1311 398h4v2h-4zM1314 399h3v2h-3zM1316 400h4v2h-4zM1319 401h4v2h-4zM1322 402h3v2h-3zM1324 403h4v2h-4zM1327 404h4v2h-4zM1330 405h3v2h-3zM1332 406h4v2h-4zM1335 407h4v2h-4zM1338 408h3v2h-3zM1340 409h4v2h-4zM1343 410h4v2h-4zM1346 411h3v2h-3zM1348 412h4v2h-4zM1351 413h4v2h-4zM1354 414h3v2h-3zM1356 415h4v2h-4zM1359 416h4v2h-4zM1362 417h3v2h-3zM1364 418h4v2h-4zM1367 419h4v2h-4zM1370 420h3v2h-3zM1372 421h4v2h-4zM1375 422h4v2h-4zM1378 423h3v2h-3zM1380 424h4v2h-4zM1383 425h4v2h-4zM1386 426h3v2h-3zM1388 427h4v2h-4zM1391 428h3v2h-3zM1393 429h4v2h-4zM1396 430h4v2h-4zM1399 431h3v2h-3zM1401 432h4v2h-4zM1404 433h4v2h-4zM1407 434h3v2h-3zM1409 435h4v2h-4zM1412 436h4v2h-4zM1415 437h3v2h-3zM1417 438h4v2h-4zM1420 439h4v2h-4zM1423 440h3v2h-3zM1425 441h4v2h-4zM1428 442h4v2h-4zM1431 443h3v2h-3zM1433 444h4v2h-4zM1436 445h4v2h-4zM1439 446h3v2h-3zM1441 447h4v2h-4zM1444 448h4v2h-4zM1447 449h3v2h-3zM1449 450h4v2h-4zM1452 451h4v2h-4zM1455 452h3v2h-3zM1457 453h4v2h-4zM1460 454h4v2h-4zM1463 455h3v2h-3zM1465 456h4v2h-4zM1468 457h3v2h-3zM1470 458h4v2h-4zM1473 459h4v2h-4zM1476 460h3v2h-3zM1478 461h4v2h-4zM1481 462h4v2h-4zM1484 463h3v2h-3zM1486 464h4v2h-4zM1489 465h4v2h-4zM1492 466h3v2h-3zM1494 467h4v2h-4zM1497 468h4v2h-4zM1500 469h3v2h-3zM1502 470h4v2h-4zM1505 471h4v2h-4zM1508 472h3v2h-3zM1510 473h4v2h-4zM1513 474h4v2h-4zM1516 475h3v2h-3zM1518 476h4v2h-4zM1521 477h4v2h-4zM1524 478h3v2h-3zM1526 479h4v2h-4zM1529 480h4v2h-4zM1532 481h3v2h-3zM1534 482h4v2h-4zM1537 483h4v2h-4zM1540 484h3v2h-3zM1542 485h4v2h-4zM1545 486h3v2h-3zM1547 487h4v2h-4zM1550 488h4v2h-4zM1553 489h3v2h-3zM1555 490h4v2h-4zM1558 491h4v2h-4zM1561 492h3v2h-3zM1563 493h4v2h-4zM1566 494h4v2h-4zM1569 495h3v2h-3zM1571 496h4v2h-4zM1574 497h4v2h-4zM1577 498h3v2h-3zM1579 499h4v2h-4zM1582 500h4v2h-4zM1585 501h3v2h-3zM1587 502h4v2h-4zM1590 503h4v2h-4zM1593 504h3v2h-3zM1595 505h4v2h-4zM1598 506h4v2h-4zM1601 507h3v2h-3zM1603 508h4v2h-4zM1606 509h4v2h-4zM1609 510h3v2h-3zM1611 511h4v2h-4zM1614 512h4v2h-4zM1617 513h3v2h-3zM1619 514h4v2h-4zM1622 515h3v2h-3zM1624 516h4v2h-4z" fill="#0000ff"/>
<path d="M987 451h4v2h-4zM990 452h4v2h-4zM993 453h5v2h-5zM997 454h4v2h-4zM1000 455h5v2h-5zM1004 456h4v2h-4zM1007 457h5v2h-5zM1011 458h4v2h-4zM1014 459h4v2h-4zM1017 460h5v2h-5zM1021 461h4v2h-4zM1024 462h5v2h-5zM1028 463h4v2h-4zM1031 464h5v2h-5zM1035 465h4v2h-4zM1038 466h4v2h-4zM1041 467h5v2h-5zM1045 468h4v2h-4zM1048 469h5v2h-5zM1052 470h4v2h-4zM1055 471h4v2h-4zM1058 472h5v2h-5zM1062 473h4v2h-4zM1065 474h5v2h-5zM1069 475h4v2h-4zM1072 476h5v2h-5zM1076 477h4v2h-4zM1079 478h4v2h-4zM1082 479h5v2h-5zM1086 480h4v2h-4zM1089 481h5v2h-5zM1093 482h4v2h-4zM1096 483h4v2h-4zM1099 484h5v2h-5zM1103 485h4v2h-4zM1106 486h5v2h-5zM1110 487h4v2h-4zM1113 488h5v2h-5zM1117 489h4v2h-4zM1120 490h4v2h-4zM1123 491h5v2h-5zM1127 492h4v2h-4zM1130 493h5v2h-5zM1134 494h4v2h-4zM1137 495h5v2h-5zM1141 496h4v2h-4zM1144 497h4v2h-4zM1147 498h5v2h-5zM1151 499h4v2h-4zM1154 500h5v2h-5zM1158 501h4v2h-4zM1161 502h4v2h-4zM1164 503h5v2h-5zM1168 504h4v2h-4zM1171 505h5v2h-5zM1175 506h4v2h-4zM1178 507h5v2h-5zM1182 508h4v2h-4zM1185 509h4v2h-4zM1188 510h5v2h-5zM1192 511h4v2h-4zM1195 512h5v2h-5zM1199 513h4v2h-4zM1202 514h4v2h-4zM1205 515h5v2h-5zM1209 516h4v2h-4zM1212 517h5v2h-5zM1216 518h4v2h-4zM1219 519h5v2h-5zM1223 520h4v2h-4zM1226 521h4v2h-4zM1229 522h5v2h-5zM1233 523h4v2h-4zM1236 524h5v2h-5zM1240 525h4v2h-4zM1243 526h5v2h-5zM1247 527h4v2h-4zM1250 528h4v2h-4zM1253 529h5v2h-5zM1257 530h4v2h-4zM1260 531h5v2h-5zM1264 532h4v2h-4zM1267 533h4v2h-4zM1270 534h5v2h-5zM1274 535h4v2h-4zM1277 536h5v2h-5zM1281 537h4v2h-4zM1284 538h5v2h-5zM1288 539h4v2h-4zM1291 540h4v2h-4zM1294 541h5v2h-5zM1298 542h4v2h-4zM1301 543h5v2h-5zM1305 544h4v2h-4zM1308 545h4v2h-4zM1311 546h5v2h-5zM1315 547h4v2h-4zM1318 548h5v2h-5zM1322 549h4v2h-4zM1325 550h5v2h-5zM1329 551h4v2h-4zM1332 552h4v2h-4zM1335 553h5v2h-5zM1339 554h4v2h-4zM1342 555h5v2h-5zM1346 556h4v2h-4zM1349 557h5v2h-5zM1353 558h4v2h-4zM1356 559h4v2h-4zM1359 560h5v2h-5zM1363 561h4v2h-4zM1366 562h5v2h-5zM1370 563h4v2h-4zM1373 564h4v2h-4zM1376 565h5v2h-5zM1380 566h4v2h-4zM1383 567h5v2h-5zM1387 568h4v2h-4zM1390 569h5v2h-5zM1394 570h4v2h-4zM1397 571h4v2h-4zM1400 572h5v2h-5zM1404 573h4v2h-4zM1407 574h5v2h-5zM1411 575h4v2h-4zM1414 576h4v2h-4zM1417 577h5v2h-5zM1421 578h4v2h-4zM1424 579h5v2h-5zM1428 580h4v2h-4zM1431 581h5v2h-5zM1435 582h4v2h-4zM1438 583h4v2h-4zM1441 584h5v2h-5zM1445 585h4v2h-4zM1448 586h5v2h-5zM1452 587h4v2h-4zM1455 588h5v2h-5zM1459 589h4v2h-4zM1462 590h4v2h-4zM1465 591h5v2h-5zM1469 592h4v2h-4zM1472 593h5v2h-5zM1476 594h4v2h-4zM1479 595h4v2h-4zM1482 596h5v2h-5zM1486 597h4v2h-4zM1489 598h5v2h-5zM1493 599h4v2h-4zM1496 600h5v2h-5zM1500 601h4v2h-4zM1503 602h4v2h-4zM1506 603h5v2h-5zM1510 604h4v2h-4zM1513 605h5v2h-5zM1517 606h4v2h-4zM1520 607h4v2h-4zM1523 608h5v2h-5zM1527 609h4v2h-4zM1530 610h5v2h-5zM1534 611h4v2h-4zM1537 612h5v2h-5zM1541 613h4v2h-4zM1544 614h4v2h-4zM1547 615h5v2h-5zM1551 616h4v2h-4zM1554 617h5v2h-5zM1558 618h4v2h-4zM1561 619h5v2h-5zM1565 620h4v2h-4zM1568 621h4v2h-4zM1571 622h5v2h-5zM1575 623h4v2h-4zM1578 624h5v2h-5zM1582 625h4v2h-4zM1585 626h4v2h-4zM1588 627h5v2h-5zM1592 628h4v2h-4zM1595 629h5v2h-5zM1599 630h4v2h-4zM1602 631h5v2h-5zM1606 632h4v2h-4zM1609 633h4v2h-4zM1612 634h5v2h-5zM1616 635h4v2h-4z" fill="#0000ff"/>
<rect x="0" y="0" width="2" height="896" fill="#fff"/>
<rect x="2" y="2" width="1869" height="1" fill="#000"/>
<rect x="2" y="2" width="1" height="874" fill="#000"/>
<rect x="1870" y="2" width="1" height="874" fill="#000"/>
<rect x="2" y="737" width="1869" height="1" fill="#000"/>
<rect x="2" y="739" width="1869" height="1" fill="#000"/>
<rect x="2" y="875" width="1869" height="1" fill="#000"/>
<rect x="3" y="738" width="1867" height="1" fill="#fff"/>
<rect x="1871" y="25" width="2" height="1" fill="#000"/>
<rect x="1871" y="59" width="2" height="1" fill="#000"/>
<rect x="1871" y="93" width="2" height="1" fill="#000"/>
<rect x="1871" y="127" width="2" height="1" fill="#000"/>
<rect x="1871" y="160" width="2" height="1" fill="#000"/>
<rect x="1871" y="194" width="2" height="1" fill="#000"/>
<rect x="1871" y="228" width="2" height="1" fill="#000"/>
<rect x="1871" y="262" width="2" height="1" fill="#000"/>
<rect x="1871" y="296" width="2" height="1" fill="#000"/>
<rect x="1871" y="330" width="2" height="1" fill="#000"/>
<rect x="1871" y="363" width="2" height="1" fill="#000"/>
<rect x="1871" y="397" width="2" height="1" fill="#000"/>
<rect x="1871" y="431" width="2" height="1" fill="#000"/>
<rect x="1871" y="465" width="2" height="1" fill="#000"/>
<rect x="1871" y="499" width="2" height="1" fill="#000"/>
<rect x="1871" y="533" width="2" height="1" fill="#000"/>
<rect x="1871" y="566" width="2" height="1" fill="#000"/>
<rect x="1871" y="600" width="2" height="1" fill="#000"/>
<rect x="1871" y="634" width="2" height="1" fill="#000"/>
<rect x="1871" y="668" width="2" height="1" fill="#000"/>
<rect x="1871" y="701" width="2" height="1" fill="#000"/>
<rect x="1871" y="734" width="2" height="1" fill="#000"/>
<rect x="1871" y="767" width="2" height="1" fill="#000"/>
<rect x="1871" y="807" width="2" height="1" fill="#000"/>
<rect x="1871" y="848" width="2" height="1" fill="#000"/>
<rect x="3" y="876" width="1" height="3" fill="#000"/>
<rect x="67" y="876" width="1" height="3" fill="#000"/>
<rect x="131" y="876" width="1" height="3" fill="#000"/>
<rect x="195" y="876" width="1" height="3" fill="#000"/>
<rect x="259" y="876" width="1" height="3" fill="#000"/>
<rect x="323" y="876" width="1" height="3" fill="#000"/>
<rect x="387" y="876" width="1" height="3" fill="#000"/>
<rect x="451" y="876" width="1" height="3" fill="#000"/>
<rect x="515" y="876" width="1" height="3" fill="#000"/>
<rect x="579" y="876" width="1" height="3" fill="#000"/>
<rect x="643" y="876" width="1" height="3" fill="#000"/>
<rect x="707" y="876" width="1" height="3" fill="#000"/>
<rect x="771" y="876" width="1" height="3" fill="#000"/>
<rect x="835" y="876" width="1" height="3" fill="#000"/>
<rect x="899" y="876" width="1" height="3" fill="#000"/>
<rect x="963" y="876" width="1" height="3" fill="#000"/>
<rect x="1027" y="876" width="1" height="3" fill="#000"/>
<rect x="1091" y="876" width="1" height="3" fill="#000"/>
<rect x="1155" y="876" width="1" height="3" fill="#000"/>
<rect x="1219" y="876" width="1" height="3" fill="#000"/>
<rect x="1283" y="876" width="1" height="3" fill="#000"/>
<rect x="1347" y="876" width="1" height="3" fill="#000"/>
<rect x="1411" y="876" width="1" height="3" fill="#000"/>
<rect x="1475" y="876" width="1" height="3" fill="#000"/>
<rect x="1872" y="402" width="41" height="11" fill="#ff0000"/>
<rect x="1872" y="676" width="41" height="11" fill="#000"/>
<polygon points="5,9 13,9 9,13" fill="#000"/>
</g>
<text x="1877" y="28.9" font-size="10.2" fill="#000" stroke="#000" stroke-width="0.2" text-anchor="start" font-weight="normal" textLength="32" lengthAdjust="spacingAndGlyphs">1.25870</text>
<text x="1877" y="62.9" font-size="10.2" fill="#000" stroke="#000" stroke-width="0.2" text-anchor="start" font-weight="normal" textLength="32" lengthAdjust="spacingAndGlyphs">1.25715</text>
<text x="1877" y="96.9" font-size="10.2" fill="#000" stroke="#000" stroke-width="0.2" text-anchor="start" font-weight="normal" textLength="32" lengthAdjust="spacingAndGlyphs">1.25560</text>
<text x="1877" y="130.9" font-size="10.2" fill="#000" stroke="#000" stroke-width="0.2" text-anchor="start" font-weight="normal" textLength="32" lengthAdjust="spacingAndGlyphs">1.25405</text>
<text x="1877" y="163.8" font-size="10.2" fill="#000" stroke="#000" stroke-width="0.2" text-anchor="start" font-weight="normal" textLength="32" lengthAdjust="spacingAndGlyphs">1.25255</text>
<text x="1877" y="197.8" font-size="10.2" fill="#000" stroke="#000" stroke-width="0.2" text-anchor="start" font-weight="normal" textLength="32" lengthAdjust="spacingAndGlyphs">1.25100</text>
<text x="1877" y="231.8" font-size="10.2" fill="#000" stroke="#000" stroke-width="0.2" text-anchor="start" font-weight="normal" textLength="32" lengthAdjust="spacingAndGlyphs">1.24945</text>
<text x="1877" y="265.8" font-size="10.2" fill="#000" stroke="#000" stroke-width="0.2" text-anchor="start" font-weight="normal" textLength="32" lengthAdjust="spacingAndGlyphs">1.24790</text>
<text x="1877" y="299.8" font-size="10.2" fill="#000" stroke="#000" stroke-width="0.2" text-anchor="start" font-weight="normal" textLength="32" lengthAdjust="spacingAndGlyphs">1.24635</text>
<text x="1877" y="333.8" font-size="10.2" fill="#000" stroke="#000" stroke-width="0.2" text-anchor="start" font-weight="normal" textLength="32" lengthAdjust="spacingAndGlyphs">1.24480</text>
<text x="1877" y="366.7" font-size="10.2" fill="#000" stroke="#000" stroke-width="0.2" text-anchor="start" font-weight="normal" textLength="32" lengthAdjust="spacingAndGlyphs">1.24330</text>
<text x="1877" y="400.7" font-size="10.2" fill="#000" stroke="#000" stroke-width="0.2" text-anchor="start" font-weight="normal" textLength="32" lengthAdjust="spacingAndGlyphs">1.24175</text>
<text x="1877" y="434.8" font-size="10.2" fill="#000" stroke="#000" stroke-width="0.2" text-anchor="start" font-weight="normal" textLength="32" lengthAdjust="spacingAndGlyphs">1.24020</text>
<text x="1877" y="468.8" font-size="10.2" fill="#000" stroke="#000" stroke-width="0.2" text-anchor="start" font-weight="normal" textLength="32" lengthAdjust="spacingAndGlyphs">1.23865</text>
<text x="1877" y="502.8" font-size="10.2" fill="#000" stroke="#000" stroke-width="0.2" text-anchor="start" font-weight="normal" textLength="32" lengthAdjust="spacingAndGlyphs">1.23710</text>
<text x="1877" y="536.8" font-size="10.2" fill="#000" stroke="#000" stroke-width="0.2" text-anchor="start" font-weight="normal" textLength="32" lengthAdjust="spacingAndGlyphs">1.23555</text>
<text x="1877" y="569.7" font-size="10.2" fill="#000" stroke="#000" stroke-width="0.2" text-anchor="start" font-weight="normal" textLength="32" lengthAdjust="spacingAndGlyphs">1.23405</text>
<text x="1877" y="603.7" font-size="10.2" fill="#000" stroke="#000" stroke-width="0.2" text-anchor="start" font-weight="normal" textLength="32" lengthAdjust="spacingAndGlyphs">1.23250</text>
<text x="1877" y="637.7" font-size="10.2" fill="#000" stroke="#000" stroke-width="0.2" text-anchor="start" font-weight="normal" textLength="32" lengthAdjust="spacingAndGlyphs">1.23095</text>
<text x="1877" y="671.7" font-size="10.2" fill="#000" stroke="#000" stroke-width="0.2" text-anchor="start" font-weight="normal" textLength="32" lengthAdjust="spacingAndGlyphs">1.22940</text>
<text x="1877" y="704.6" font-size="10.2" fill="#000" stroke="#000" stroke-width="0.2" text-anchor="start" font-weight="normal" textLength="32" lengthAdjust="spacingAndGlyphs">1.22790</text>
<text x="1877" y="737.5" font-size="10.2" fill="#000" stroke="#000" stroke-width="0.2" text-anchor="start" font-weight="normal" textLength="32" lengthAdjust="spacingAndGlyphs">1.22640</text>
<text x="1877" y="411" font-size="10.2" fill="#fff" stroke="#fff" stroke-width="0.2" text-anchor="start" font-weight="normal" textLength="32" lengthAdjust="spacingAndGlyphs">1.24127</text>
<text x="1877" y="685" font-size="10.2" fill="#fff" stroke="#fff" stroke-width="0.2" text-anchor="start" font-weight="normal" textLength="32" lengthAdjust="spacingAndGlyphs">1.22881</text>
<text x="1810.5" y="85.8" font-size="10.2" fill="#0000ff" stroke="#0000ff" stroke-width="0.2" text-anchor="start" font-weight="normal" textLength="58" lengthAdjust="spacingAndGlyphs">123.6 1.25587</text>
<text x="1810.5" y="205.8" font-size="10.2" fill="#0000ff" stroke="#0000ff" stroke-width="0.2" text-anchor="start" font-weight="normal" textLength="58" lengthAdjust="spacingAndGlyphs">100.0 1.25037</text>
<text x="1815.1" y="326.8" font-size="10.2" fill="#0000ff" stroke="#0000ff" stroke-width="0.2" text-anchor="start" font-weight="normal" textLength="53.4" lengthAdjust="spacingAndGlyphs">76.4 1.24487</text>
<text x="1815.1" y="401.8" font-size="10.2" fill="#0000ff" stroke="#0000ff" stroke-width="0.2" text-anchor="start" font-weight="normal" textLength="53.4" lengthAdjust="spacingAndGlyphs">61.8 1.24147</text>
<text x="1815.1" y="461.8" font-size="10.2" fill="#0000ff" stroke="#0000ff" stroke-width="0.2" text-anchor="start" font-weight="normal" textLength="53.4" lengthAdjust="spacingAndGlyphs">50.0 1.23872</text>
<text x="1815.1" y="521.8" font-size="10.2" fill="#0000ff" stroke="#0000ff" stroke-width="0.2" text-anchor="start" font-weight="normal" textLength="53.4" lengthAdjust="spacingAndGlyphs">38.2 1.23597</text>
<text x="1815.1" y="596.8" font-size="10.2" fill="#0000ff" stroke="#0000ff" stroke-width="0.2" text-anchor="start" font-weight="normal" textLength="53.4" lengthAdjust="spacingAndGlyphs">23.6 1.23257</text>
<text x="1820.1" y="717.8" font-size="10.2" fill="#0000ff" stroke="#0000ff" stroke-width="0.2" text-anchor="start" font-weight="normal" textLength="48.4" lengthAdjust="spacingAndGlyphs">0.0 1.22707</text>
<text x="2.5" y="888" font-size="10.2" fill="#000" stroke="#000" stroke-width="0.2" text-anchor="start" font-weight="normal" textLength="51" lengthAdjust="spacingAndGlyphs">18 Sep 2019</text>
<text x="66.5" y="888" font-size="10.2" fill="#000" stroke="#000" stroke-width="0.2" text-anchor="start" font-weight="normal" textLength="54" lengthAdjust="spacingAndGlyphs">18 Sep 21:00</text>
<text x="130.5" y="888" font-size="10.2" fill="#000" stroke="#000" stroke-width="0.2" text-anchor="start" font-weight="normal" textLength="54" lengthAdjust="spacingAndGlyphs">19 Sep 05:00</text>
<text x="194.5" y="888" font-size="10.2" fill="#000" stroke="#000" stroke-width="0.2" text-anchor="start" font-weight="normal" textLength="54" lengthAdjust="spacingAndGlyphs">19 Sep 13:00</text>
<text x="258.5" y="888" font-size="10.2" fill="#000" stroke="#000" stroke-width="0.2" text-anchor="start" font-weight="normal" textLength="54" lengthAdjust="spacingAndGlyphs">19 Sep 21:00</text>
<text x="322.5" y="888" font-size="10.2" fill="#000" stroke="#000" stroke-width="0.2" text-anchor="start" font-weight="normal" textLength="54" lengthAdjust="spacingAndGlyphs">20 Sep 05:00</text>
<text x="386.5" y="888" font-size="10.2" fill="#000" stroke="#000" stroke-width="0.2" text-anchor="start" font-weight="normal" textLength="54" lengthAdjust="spacingAndGlyphs">20 Sep 13:00</text>
<text x="450.5" y="888" font-size="10.2" fill="#000" stroke="#000" stroke-width="0.2" text-anchor="start" font-weight="normal" textLength="54" lengthAdjust="spacingAndGlyphs">20 Sep 21:00</text>
<text x="514.5" y="888" font-size="10.2" fill="#000" stroke="#000" stroke-width="0.2" text-anchor="start" font-weight="normal" textLength="54" lengthAdjust="spacingAndGlyphs">23 Sep 05:00</text>
<text x="578.5" y="888" font-size="10.2" fill="#000" stroke="#000" stroke-width="0.2" text-anchor="start" font-weight="normal" textLength="54" lengthAdjust="spacingAndGlyphs">23 Sep 13:00</text>
<text x="642.5" y="888" font-size="10.2" fill="#000" stroke="#000" stroke-width="0.2" text-anchor="start" font-weight="normal" textLength="54" lengthAdjust="spacingAndGlyphs">23 Sep 21:00</text>
<text x="706.5" y="888" font-size="10.2" fill="#000" stroke="#000" stroke-width="0.2" text-anchor="start" font-weight="normal" textLength="54" lengthAdjust="spacingAndGlyphs">24 Sep 05:00</text>
<text x="770.5" y="888" font-size="10.2" fill="#000" stroke="#000" stroke-width="0.2" text-anchor="start" font-weight="normal" textLength="54" lengthAdjust="spacingAndGlyphs">24 Sep 13:00</text>
<text x="834.5" y="888" font-size="10.2" fill="#000" stroke="#000" stroke-width="0.2" text-anchor="start" font-weight="normal" textLength="54" lengthAdjust="spacingAndGlyphs">24 Sep 21:00</text>
<text x="898.5" y="888" font-size="10.2" fill="#000" stroke="#000" stroke-width="0.2" text-anchor="start" font-weight="normal" textLength="54" lengthAdjust="spacingAndGlyphs">25 Sep 05:00</text>
<text x="962.5" y="888" font-size="10.2" fill="#000" stroke="#000" stroke-width="0.2" text-anchor="start" font-weight="normal" textLength="54" lengthAdjust="spacingAndGlyphs">25 Sep 13:00</text>
<text x="1026.5" y="888" font-size="10.2" fill="#000" stroke="#000" stroke-width="0.2" text-anchor="start" font-weight="normal" textLength="54" lengthAdjust="spacingAndGlyphs">25 Sep 21:00</text>
<text x="1090.5" y="888" font-size="10.2" fill="#000" stroke="#000" stroke-width="0.2" text-anchor="start" font-weight="normal" textLength="54" lengthAdjust="spacingAndGlyphs">26 Sep 05:00</text>
<text x="1154.5" y="888" font-size="10.2" fill="#000" stroke="#000" stroke-width="0.2" text-anchor="start" font-weight="normal" textLength="54" lengthAdjust="spacingAndGlyphs">26 Sep 13:00</text>
<text x="1218.5" y="888" font-size="10.2" fill="#000" stroke="#000" stroke-width="0.2" text-anchor="start" font-weight="normal" textLength="54" lengthAdjust="spacingAndGlyphs">26 Sep 21:00</text>
<text x="1282.5" y="888" font-size="10.2" fill="#000" stroke="#000" stroke-width="0.2" text-anchor="start" font-weight="normal" textLength="54" lengthAdjust="spacingAndGlyphs">27 Sep 05:00</text>
<text x="1346.5" y="888" font-size="10.2" fill="#000" stroke="#000" stroke-width="0.2" text-anchor="start" font-weight="normal" textLength="54" lengthAdjust="spacingAndGlyphs">27 Sep 13:00</text>
<text x="1410.5" y="888" font-size="10.2" fill="#000" stroke="#000" stroke-width="0.2" text-anchor="start" font-weight="normal" textLength="54" lengthAdjust="spacingAndGlyphs">27 Sep 21:00</text>
<text x="1474.5" y="888" font-size="10.2" fill="#000" stroke="#000" stroke-width="0.2" text-anchor="start" font-weight="normal" textLength="54" lengthAdjust="spacingAndGlyphs">30 Sep 05:00</text>
<text x="1874.2" y="750" font-size="10.2" fill="#000" stroke="#000" stroke-width="0.2" text-anchor="start" font-weight="normal" textLength="14.7" lengthAdjust="spacingAndGlyphs">100</text>
<text x="1873.2" y="771" font-size="10.2" fill="#000" stroke="#000" stroke-width="0.2" text-anchor="start" font-weight="normal" textLength="9.8" lengthAdjust="spacingAndGlyphs">80</text>
<text x="1873.2" y="811" font-size="10.2" fill="#000" stroke="#000" stroke-width="0.2" text-anchor="start" font-weight="normal" textLength="9.8" lengthAdjust="spacingAndGlyphs">50</text>
<text x="1873.2" y="852" font-size="10.2" fill="#000" stroke="#000" stroke-width="0.2" text-anchor="start" font-weight="normal" textLength="9.8" lengthAdjust="spacingAndGlyphs">20</text>
<text x="1874.2" y="872" font-size="10.2" fill="#000" stroke="#000" stroke-width="0.2" text-anchor="start" font-weight="normal" textLength="4.8" lengthAdjust="spacingAndGlyphs">0</text>
<text x="7.3" y="752" font-size="10.2" fill="#000" stroke="#000" stroke-width="0.2" text-anchor="start" font-weight="normal" textLength="68" lengthAdjust="spacingAndGlyphs">RSI(14) 39.0630</text>
<text x="18.2" y="14" font-size="10.2" fill="#000" stroke="#000" stroke-width="0.2" text-anchor="start" font-weight="normal" textLength="53.6" lengthAdjust="spacingAndGlyphs">GBPUSD,H1</text>
<text x="78.3" y="14" font-size="10.2" fill="#000" stroke="#000" stroke-width="0.2" text-anchor="start" font-weight="normal" textLength="140.3" lengthAdjust="spacingAndGlyphs">1.22837 1.22887 1.22836 1.22881</text>
<text x="798.3" y="30.1" font-size="20.3" fill="#000" text-anchor="start" font-weight="bold" textLength="224.6" lengthAdjust="spacingAndGlyphs">GBP/USD Hourly Chart</text>
<text x="1540" y="592.9" font-size="21.2" fill="#ed1c24" text-anchor="start" font-weight="bold" textLength="157.8" lengthAdjust="spacingAndGlyphs">Resistance Area</text>
<g fill="none" stroke="#ed1c24" stroke-width="4.8" stroke-linecap="round" stroke-linejoin="round">
<line x1="1506.2" y1="684" x2="1532.1" y2="634.8"/>
<line x1="1555.6" y1="641.7" x2="1570" y2="714"/>
<polyline points="1554.1,701.9 1570,715 1578.5,694.9"/>
</g>
</svg></body></html>
